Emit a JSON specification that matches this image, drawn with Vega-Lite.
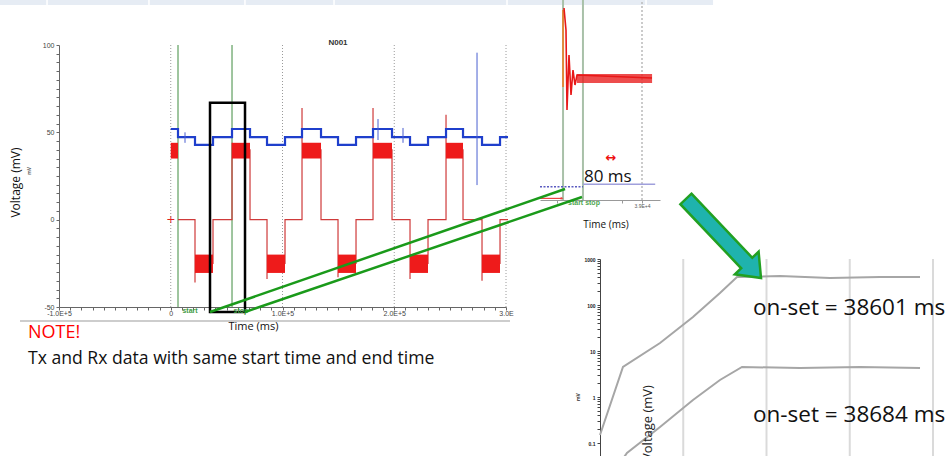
{
"$schema": "https://vega.github.io/schema/vega-lite/v6.json",
"width": 447, "height": 262,
"autosize": {"type": "none"},
"padding": {"left": 59, "top": 45, "right": 443, "bottom": 149},
"background": "white",
"config": {"view": {"stroke": null}, "axis": {"grid": false, "labelFont": "Liberation Sans", "titleFont": "Open Sans"}, "text": {"font": "Open Sans"}},
"datasets": {
"band": [{"t0": -152800, "t1": 485300, "v0": 122.9, "v1": 126}],
"seps": [{"t": -110700}, {"t": -19500}, {"t": 66400}, {"t": 146100}, {"t": 300900}, {"t": 425300}],
"grid": [{"t": 0}, {"t": 100000}, {"t": 200000}, {"t": 300000}],
"cursors": [{"t": 6490}, {"t": 54820}],
"cursorLabels": [{"text": "start", "t": 17230, "v": -52.3}, {"text": "stop", "t": 62870, "v": -52.3}],
"redBlocks": [
{"t0": 0, "t1": 6490, "lo": 35, "hi": 44},
{"t0": 21700, "t1": 37810, "lo": -30.5, "hi": -20},
{"t0": 54820, "t1": 70930, "lo": 35, "hi": 44},
{"t0": 86140, "t1": 102250, "lo": -30.5, "hi": -20},
{"t0": 117460, "t1": 134460, "lo": 35, "hi": 44},
{"t0": 149680, "t1": 165790, "lo": -30.5, "hi": -20},
{"t0": 181000, "t1": 198000, "lo": 35, "hi": 44},
{"t0": 214110, "t1": 230220, "lo": -30.5, "hi": -20},
{"t0": 246330, "t1": 261540, "lo": 35, "hi": 44},
{"t0": 278540, "t1": 294650, "lo": -30.5, "hi": -20}],
"redLine": [
{"i": 1, "t": 6490, "v": 0}, {"i": 2, "t": 21700, "v": 0}, {"i": 3, "t": 21700, "v": -36}, {"i": 4, "t": 21700, "v": -25},
{"i": 5, "t": 37810, "v": -25}, {"i": 6, "t": 37810, "v": 0}, {"i": 7, "t": 54820, "v": 0}, {"i": 8, "t": 54820, "v": 44},
{"i": 9, "t": 54820, "v": 40}, {"i": 10, "t": 70930, "v": 40}, {"i": 11, "t": 70930, "v": 0}, {"i": 12, "t": 86140, "v": 0},
{"i": 13, "t": 86140, "v": -34}, {"i": 14, "t": 86140, "v": -25}, {"i": 15, "t": 102250, "v": -25}, {"i": 16, "t": 102250, "v": 0},
{"i": 17, "t": 117460, "v": 0}, {"i": 18, "t": 117460, "v": 64}, {"i": 19, "t": 117460, "v": 40}, {"i": 20, "t": 134460, "v": 40},
{"i": 21, "t": 134460, "v": 0}, {"i": 22, "t": 149680, "v": 0}, {"i": 23, "t": 149680, "v": -33}, {"i": 24, "t": 149680, "v": -25},
{"i": 25, "t": 165790, "v": -25}, {"i": 26, "t": 165790, "v": 0}, {"i": 27, "t": 181000, "v": 0}, {"i": 28, "t": 181000, "v": 64},
{"i": 29, "t": 181000, "v": 40}, {"i": 30, "t": 198000, "v": 40}, {"i": 31, "t": 198000, "v": 0}, {"i": 32, "t": 214110, "v": 0},
{"i": 33, "t": 214110, "v": -34}, {"i": 34, "t": 214110, "v": -25}, {"i": 35, "t": 230220, "v": -25}, {"i": 36, "t": 230220, "v": 0},
{"i": 37, "t": 246330, "v": 0}, {"i": 38, "t": 246330, "v": 60}, {"i": 39, "t": 246330, "v": 40}, {"i": 40, "t": 261540, "v": 40},
{"i": 41, "t": 261540, "v": 0}, {"i": 42, "t": 278540, "v": 0}, {"i": 43, "t": 278540, "v": -35}, {"i": 44, "t": 278540, "v": -25},
{"i": 45, "t": 294650, "v": -25}, {"i": 46, "t": 294650, "v": 0}, {"i": 47, "t": 301800, "v": 0}],
"blueLine": [
{"i": 1, "t": 0, "v": 51.9}, {"i": 2, "t": 6490, "v": 47.3}, {"i": 3, "t": 21700, "v": 42.8}, {"i": 4, "t": 37810, "v": 47.3},
{"i": 5, "t": 54820, "v": 51.9}, {"i": 6, "t": 70930, "v": 47.3}, {"i": 7, "t": 86140, "v": 42.8}, {"i": 8, "t": 102250, "v": 47.3},
{"i": 9, "t": 117460, "v": 51.9}, {"i": 10, "t": 134460, "v": 47.3}, {"i": 11, "t": 149680, "v": 42.8}, {"i": 12, "t": 165790, "v": 47.3},
{"i": 13, "t": 181000, "v": 51.9}, {"i": 14, "t": 198000, "v": 47.3}, {"i": 15, "t": 214110, "v": 42.8}, {"i": 16, "t": 230220, "v": 47.3},
{"i": 17, "t": 246330, "v": 51.9}, {"i": 18, "t": 261540, "v": 47.3}, {"i": 19, "t": 278540, "v": 42.8}, {"i": 20, "t": 294650, "v": 47.3},
{"i": 21, "t": 301800, "v": 47.3}],
"blueSpikes": [{"t": 12760, "v0": 44, "v1": 50}, {"t": 185470, "v0": 45.6, "v1": 57.6}, {"t": 207840, "v0": 44, "v1": 52.5}, {"t": 274070, "v0": 19.8, "v1": 95.6}],
"origin": [{"text": "+", "t": 0, "v": 0}],
"zoomBox": [{"t0": 35130, "t1": 66450, "v0": -52.86, "v1": 66.97}],
"mainTitle": [{"text": "N001", "t": 149670, "v": 101.1}],
"unit": [{"text": "mV", "t": -126400, "v": 28}],
"divider": [{"t0": -134900, "t1": 303600, "v": -58}],
"note": [{"text": "NOTE!", "t": -127740, "v": -64.9}],
"noteBody": [{"text": "Tx and Rx data with same start time and end time", "t": -127740, "v": -79.5}],
"connectors": [{"id": "A", "t": 35130, "v": -52.86}, {"id": "A", "t": 352820, "v": 17.56}, {"id": "B", "t": 66450, "v": -52.86}, {"id": "B", "t": 368030, "v": 12.98}],
"insetCursors": [{"t": 38596}, {"t": 38679}],
"insetGrid": [{"t": 38925}],
"insetOrange": [{"t": 38596, "v0": 34.75, "v1": 92.5}],
"insetRed": [
{"i": 1, "t": 38600, "v": 94}, {"i": 2, "t": 38603, "v": 88}, {"i": 3, "t": 38608.3, "v": 77.5}, {"i": 4, "t": 38612.5, "v": 17.5},
{"i": 5, "t": 38620.8, "v": 58.75}, {"i": 6, "t": 38629.2, "v": 28.75}, {"i": 7, "t": 38637.5, "v": 47.5}, {"i": 8, "t": 38645.8, "v": 36.25},
{"i": 9, "t": 38654.2, "v": 43.75}, {"i": 10, "t": 38966.7, "v": 41.5}],
"insetNoise": [{"t0": 38654, "t1": 38967, "v0": 37.75, "v1": 44.5}],
"insetBlueDotted": [{"t0": 38500, "t1": 38679, "v": -40}],
"insetBlueSolid": [{"t0": 38679, "t1": 38980, "v": -38.2}],
"insetArrow": [{"t0": 38500, "t1": 38590, "v": -48.75}],
"insetArrowHead": [{"t": 38592, "v": -48.75}],
"insetLabels": [{"text": "start stop", "t": 38616.7, "v": -52.25}],
"insetSpan": [{"text": "↔", "t": 38795.8, "v": -18.5}],
"insetNote": [{"text": "80 ms", "t": 38683.3, "v": -32.5}],
"insetTitle": [{"text": "Time (ms)", "t": 38775, "v": -68.75}],
"rightGrid": [{"t": 38600}, {"t": 38700}, {"t": 38800}, {"t": 38900}],
"curves": [
{"curve": "Rx", "i": 1, "t": 38500, "v": 0.1493}, {"curve": "Rx", "i": 2, "t": 38527.6, "v": 4.488}, {"curve": "Rx", "i": 3, "t": 38572.1, "v": 14.93},
{"curve": "Rx", "i": 4, "t": 38611.7, "v": 54.84}, {"curve": "Rx", "i": 5, "t": 38644.1, "v": 182.4}, {"curve": "Rx", "i": 6, "t": 38664.6, "v": 406.2},
{"curve": "Rx", "i": 7, "t": 38716.2, "v": 426.9}, {"curve": "Rx", "i": 8, "t": 38776.3, "v": 386.4}, {"curve": "Rx", "i": 9, "t": 38836.3, "v": 406.2},
{"curve": "Rx", "i": 10, "t": 38884.4, "v": 406.2},
{"curve": "Tx", "i": 1, "t": 38526.4, "v": 0.0427}, {"curve": "Tx", "i": 2, "t": 38532.4, "v": 0.0606}, {"curve": "Tx", "i": 3, "t": 38572.1, "v": 0.2228},
{"curve": "Tx", "i": 4, "t": 38611.7, "v": 0.8606}, {"curve": "Tx", "i": 5, "t": 38644.1, "v": 2.342}, {"curve": "Tx", "i": 6, "t": 38670.6, "v": 4.488},
{"curve": "Tx", "i": 7, "t": 38740.2, "v": 4.27}, {"curve": "Tx", "i": 8, "t": 38812.3, "v": 4.488}, {"curve": "Tx", "i": 9, "t": 38884.4, "v": 4.27}],
"onset": [{"text": "on-set = 38601 ms", "t": 38683.8, "v": 86.05}, {"text": "on-set = 38684 ms", "t": 38683.8, "v": 0.4062}],
"rightTitle": [{"text": "Voltage (mV)", "t": 38557.7, "v": 0.2721}],
"rightUnit": [{"text": "mV", "t": 38473.6, "v": 1}],
"pointer": [{"t": 38648.3, "v": 2791}]
},
"layer": [
{"data": {"name": "band"}, "mark": {"type": "rect", "color": "#e6ecf4"},
 "encoding": {"x": {"field": "t0", "type": "quantitative", "scale": {"domain": [-100000, 300000], "nice": false, "zero": false}, "axis": null}, "x2": {"field": "t1"},
 "y": {"field": "v0", "type": "quantitative", "scale": {"domain": [-50, 100], "nice": false, "zero": false}, "axis": null}, "y2": {"field": "v1"}}},
{"data": {"name": "seps"}, "mark": {"type": "rule", "color": "white", "strokeWidth": 1.5},
 "encoding": {"x": {"field": "t", "type": "quantitative", "scale": {"domain": [-100000, 300000], "nice": false, "zero": false}, "axis": null},
 "y": {"datum": 122.9, "type": "quantitative", "scale": {"domain": [-50, 100], "nice": false, "zero": false}, "axis": null}, "y2": {"datum": 126}}},
{"data": {"name": "grid"}, "mark": {"type": "rule", "color": "#9a9a9a", "strokeWidth": 1, "strokeDash": [1, 2]},
 "encoding": {"x": {"field": "t", "type": "quantitative", "scale": {"domain": [-100000, 300000], "nice": false, "zero": false}, "axis": null},
 "y": {"datum": -50, "type": "quantitative", "scale": {"domain": [-50, 100], "nice": false, "zero": false}, "axis": null}, "y2": {"datum": 100}}},
{"data": {"name": "cursors"}, "mark": {"type": "rule", "color": "#5f9f5f", "strokeWidth": 1.2},
 "encoding": {"x": {"field": "t", "type": "quantitative", "scale": {"domain": [-100000, 300000], "nice": false, "zero": false}, "axis": null},
 "y": {"datum": -50, "type": "quantitative", "scale": {"domain": [-50, 100], "nice": false, "zero": false}, "axis": null}, "y2": {"datum": 100}}},
{"data": {"name": "redLine"}, "mark": {"type": "line", "color": "#cf3a3a", "strokeWidth": 1.2},
 "encoding": {"x": {"field": "t", "type": "quantitative", "scale": {"domain": [-100000, 300000], "nice": false, "zero": false},
   "axis": {"orient": "bottom", "values": [-100000,-90000,-80000,-70000,-60000,-50000,-40000,-30000,-20000,-10000,0,10000,20000,30000,40000,50000,60000,70000,80000,90000,100000,110000,120000,130000,140000,150000,160000,170000,180000,190000,200000,210000,220000,230000,240000,250000,260000,270000,280000,290000,300000],
   "labelExpr": "datum.value == 0 ? '0' : datum.value == -100000 ? '-1.0E+5' : datum.value == 100000 ? '1.0E+5' : datum.value == 200000 ? '2.0E+5' : datum.value == 300000 ? '3.0E' : ''",
   "labelOverlap": false, "labelFlush": false, "labelBound": false,
   "tickSize": 3, "labelFontSize": 7, "labelColor": "#444", "labelPadding": -1, "domainColor": "#666", "tickColor": "#666",
   "title": "Time (ms)", "titleFontSize": 11, "titleFontWeight": "normal", "titleColor": "#111", "titleX": 194, "titleY": 19, "titleBaseline": "middle", "titleAlign": "center"}},
 "y": {"field": "v", "type": "quantitative", "scale": {"domain": [-50, 100], "nice": false, "zero": false},
   "axis": {"orient": "left", "values": [-50,-45,-40,-35,-30,-25,-20,-15,-10,-5,0,5,10,15,20,25,30,35,40,45,50,55,60,65,70,75,80,85,90,95,100],
   "labelExpr": "datum.value == 100 ? '100' : datum.value == 50 ? '50' : datum.value == 0 ? '0' : datum.value == -50 ? '-50' : ''",
   "labelOverlap": false, "labelFlush": false, "labelBound": false,
   "tickSize": 3, "labelFontSize": 7, "labelColor": "#444", "domainColor": "#666", "tickColor": "#666",
   "title": "Voltage (mV)", "titleFontSize": 12, "titleFontWeight": "normal", "titleColor": "#111", "titleX": -44, "titleY": 137, "titleBaseline": "middle", "titleAlign": "center", "titleAngle": 270}},
 "order": {"field": "i", "type": "quantitative"}}},
{"data": {"name": "redBlocks"}, "mark": {"type": "rect", "color": "#ee1b1b"},
 "encoding": {"x": {"field": "t0", "type": "quantitative", "scale": {"domain": [-100000, 300000], "nice": false, "zero": false}, "axis": null}, "x2": {"field": "t1"},
 "y": {"field": "lo", "type": "quantitative", "scale": {"domain": [-50, 100], "nice": false, "zero": false}, "axis": null}, "y2": {"field": "hi"}}},
{"data": {"name": "blueLine"}, "mark": {"type": "line", "color": "#1f3fcc", "strokeWidth": 2.2, "interpolate": "step-after"},
 "encoding": {"x": {"field": "t", "type": "quantitative", "scale": {"domain": [-100000, 300000], "nice": false, "zero": false}, "axis": null},
 "y": {"field": "v", "type": "quantitative", "scale": {"domain": [-50, 100], "nice": false, "zero": false}, "axis": null},
 "order": {"field": "i", "type": "quantitative"}}},
{"data": {"name": "blueSpikes"}, "mark": {"type": "rule", "color": "#4a5fd0", "strokeWidth": 1},
 "encoding": {"x": {"field": "t", "type": "quantitative", "scale": {"domain": [-100000, 300000], "nice": false, "zero": false}, "axis": null},
 "y": {"field": "v0", "type": "quantitative", "scale": {"domain": [-50, 100], "nice": false, "zero": false}, "axis": null}, "y2": {"field": "v1"}}},
{"data": {"name": "origin"}, "mark": {"type": "text", "color": "#e02020", "fontSize": 11, "baseline": "middle", "align": "center", "font": "DejaVu Sans"},
 "encoding": {"x": {"field": "t", "type": "quantitative", "scale": {"domain": [-100000, 300000], "nice": false, "zero": false}, "axis": null},
 "y": {"field": "v", "type": "quantitative", "scale": {"domain": [-50, 100], "nice": false, "zero": false}, "axis": null}, "text": {"field": "text"}}},
{"data": {"name": "zoomBox"}, "mark": {"type": "rect", "filled": false, "color": "#000", "strokeWidth": 2.5},
 "encoding": {"x": {"field": "t0", "type": "quantitative", "scale": {"domain": [-100000, 300000], "nice": false, "zero": false}, "axis": null}, "x2": {"field": "t1"},
 "y": {"field": "v0", "type": "quantitative", "scale": {"domain": [-50, 100], "nice": false, "zero": false}, "axis": null}, "y2": {"field": "v1"}}},
{"data": {"name": "cursorLabels"}, "mark": {"type": "text", "color": "#3f9a3f", "fontSize": 7, "fontWeight": "bold", "font": "Liberation Sans", "baseline": "middle", "align": "center"},
 "encoding": {"x": {"field": "t", "type": "quantitative", "scale": {"domain": [-100000, 300000], "nice": false, "zero": false}, "axis": null},
 "y": {"field": "v", "type": "quantitative", "scale": {"domain": [-50, 100], "nice": false, "zero": false}, "axis": null}, "text": {"field": "text"}}},
{"data": {"name": "mainTitle"}, "mark": {"type": "text", "color": "#333", "fontSize": 8, "fontWeight": "bold", "font": "Liberation Sans", "baseline": "middle", "align": "center"},
 "encoding": {"x": {"field": "t", "type": "quantitative", "scale": {"domain": [-100000, 300000], "nice": false, "zero": false}, "axis": null},
 "y": {"field": "v", "type": "quantitative", "scale": {"domain": [-50, 100], "nice": false, "zero": false}, "axis": null}, "text": {"field": "text"}}},
{"data": {"name": "unit"}, "mark": {"type": "text", "color": "#666", "fontSize": 5, "fontWeight": "bold", "font": "Liberation Sans", "baseline": "middle", "align": "center", "angle": 270},
 "encoding": {"x": {"field": "t", "type": "quantitative", "scale": {"domain": [-100000, 300000], "nice": false, "zero": false}, "axis": null},
 "y": {"field": "v", "type": "quantitative", "scale": {"domain": [-50, 100], "nice": false, "zero": false}, "axis": null}, "text": {"field": "text"}}},
{"data": {"name": "divider"}, "mark": {"type": "rule", "color": "#bdbdbd", "strokeWidth": 1.5},
 "encoding": {"x": {"field": "t0", "type": "quantitative", "scale": {"domain": [-100000, 300000], "nice": false, "zero": false}, "axis": null}, "x2": {"field": "t1"},
 "y": {"field": "v", "type": "quantitative", "scale": {"domain": [-50, 100], "nice": false, "zero": false}, "axis": null}}},
{"data": {"name": "note"}, "mark": {"type": "text", "color": "#ff0000", "fontSize": 18, "baseline": "middle", "align": "left"},
 "encoding": {"x": {"field": "t", "type": "quantitative", "scale": {"domain": [-100000, 300000], "nice": false, "zero": false}, "axis": null},
 "y": {"field": "v", "type": "quantitative", "scale": {"domain": [-50, 100], "nice": false, "zero": false}, "axis": null}, "text": {"field": "text"}}},
{"data": {"name": "noteBody"}, "mark": {"type": "text", "color": "#111", "fontSize": 17.6, "baseline": "middle", "align": "left"},
 "encoding": {"x": {"field": "t", "type": "quantitative", "scale": {"domain": [-100000, 300000], "nice": false, "zero": false}, "axis": null},
 "y": {"field": "v", "type": "quantitative", "scale": {"domain": [-50, 100], "nice": false, "zero": false}, "axis": null}, "text": {"field": "text"}}},
{"data": {"name": "insetCursors"}, "mark": {"type": "rule", "color": "#a9c1a9", "strokeWidth": 2},
 "encoding": {"x": {"field": "t", "type": "quantitative", "scale": {"domain": [38500, 39000], "range": [481, 601], "nice": false, "zero": false}, "axis": null},
 "y": {"datum": -50, "type": "quantitative", "scale": {"domain": [-50, 100], "range": [155, -45], "nice": false, "zero": false}, "axis": null}, "y2": {"datum": 100}}},
{"data": {"name": "insetGrid"}, "mark": {"type": "rule", "color": "#bbbbbb", "strokeWidth": 1.5, "strokeDash": [2, 2]},
 "encoding": {"x": {"field": "t", "type": "quantitative", "scale": {"domain": [38500, 39000], "range": [481, 601], "nice": false, "zero": false}, "axis": null},
 "y": {"datum": -50, "type": "quantitative", "scale": {"domain": [-50, 100], "range": [155, -45], "nice": false, "zero": false}, "axis": null}, "y2": {"datum": 100}}},
{"data": {"name": "insetOrange"}, "mark": {"type": "rule", "color": "#e08a3c", "strokeWidth": 2},
 "encoding": {"x": {"field": "t", "type": "quantitative", "scale": {"domain": [38500, 39000], "range": [481, 601], "nice": false, "zero": false}, "axis": null},
 "y": {"field": "v0", "type": "quantitative", "scale": {"domain": [-50, 100], "range": [155, -45], "nice": false, "zero": false}, "axis": null}, "y2": {"field": "v1"}}},
{"data": {"name": "insetNoise"}, "mark": {"type": "rect", "color": "#e82020", "opacity": 0.8},
 "encoding": {"x": {"field": "t0", "type": "quantitative", "scale": {"domain": [38500, 39000], "range": [481, 601], "nice": false, "zero": false}, "axis": null}, "x2": {"field": "t1"},
 "y": {"field": "v0", "type": "quantitative", "scale": {"domain": [-50, 100], "range": [155, -45], "nice": false, "zero": false}, "axis": null}, "y2": {"field": "v1"}}},
{"data": {"name": "insetRed"}, "mark": {"type": "line", "color": "#e81818", "strokeWidth": 1.6},
 "encoding": {"x": {"field": "t", "type": "quantitative", "scale": {"domain": [38500, 39000], "range": [481, 601], "nice": false, "zero": false},
   "axis": {"orient": "bottom", "offset": -107, "values": [38570, 38840, 38925], "labelExpr": "datum.value == 38925 ? '3.9E+4' : ''", "labelOverlap": false, "labelFlush": false, "labelBound": false, "tickSize": 3, "labelFontSize": 5, "labelColor": "#555", "labelPadding": 0, "domainColor": "#999", "tickColor": "#999", "title": null}},
 "y": {"field": "v", "type": "quantitative", "scale": {"domain": [-50, 100], "range": [155, -45], "nice": false, "zero": false}, "axis": null},
 "order": {"field": "i", "type": "quantitative"}}},
{"data": {"name": "insetBlueDotted"}, "mark": {"type": "rule", "color": "#5a5ac0", "strokeWidth": 1.5, "strokeDash": [2, 1.5]},
 "encoding": {"x": {"field": "t0", "type": "quantitative", "scale": {"domain": [38500, 39000], "range": [481, 601], "nice": false, "zero": false}, "axis": null}, "x2": {"field": "t1"},
 "y": {"field": "v", "type": "quantitative", "scale": {"domain": [-50, 100], "range": [155, -45], "nice": false, "zero": false}, "axis": null}}},
{"data": {"name": "insetBlueSolid"}, "mark": {"type": "rule", "color": "#a0a0dc", "strokeWidth": 1.5},
 "encoding": {"x": {"field": "t0", "type": "quantitative", "scale": {"domain": [38500, 39000], "range": [481, 601], "nice": false, "zero": false}, "axis": null}, "x2": {"field": "t1"},
 "y": {"field": "v", "type": "quantitative", "scale": {"domain": [-50, 100], "range": [155, -45], "nice": false, "zero": false}, "axis": null}}},
{"data": {"name": "insetArrow"}, "mark": {"type": "rule", "color": "#e82020", "strokeWidth": 1},
 "encoding": {"x": {"field": "t0", "type": "quantitative", "scale": {"domain": [38500, 39000], "range": [481, 601], "nice": false, "zero": false}, "axis": null}, "x2": {"field": "t1"},
 "y": {"field": "v", "type": "quantitative", "scale": {"domain": [-50, 100], "range": [155, -45], "nice": false, "zero": false}, "axis": null}}},
{"data": {"name": "insetArrowHead"}, "mark": {"type": "point", "shape": "triangle-right", "filled": true, "color": "#e82020", "size": 10},
 "encoding": {"x": {"field": "t", "type": "quantitative", "scale": {"domain": [38500, 39000], "range": [481, 601], "nice": false, "zero": false}, "axis": null},
 "y": {"field": "v", "type": "quantitative", "scale": {"domain": [-50, 100], "range": [155, -45], "nice": false, "zero": false}, "axis": null}}},
{"data": {"name": "insetLabels"}, "mark": {"type": "text", "color": "#4fa64f", "fontSize": 7, "fontWeight": "bold", "font": "Liberation Sans", "baseline": "middle", "align": "left"},
 "encoding": {"x": {"field": "t", "type": "quantitative", "scale": {"domain": [38500, 39000], "range": [481, 601], "nice": false, "zero": false}, "axis": null},
 "y": {"field": "v", "type": "quantitative", "scale": {"domain": [-50, 100], "range": [155, -45], "nice": false, "zero": false}, "axis": null}, "text": {"field": "text"}}},
{"data": {"name": "insetSpan"}, "mark": {"type": "text", "color": "#ee1111", "fontSize": 13, "fontWeight": "bold", "font": "DejaVu Sans", "baseline": "middle", "align": "center"},
 "encoding": {"x": {"field": "t", "type": "quantitative", "scale": {"domain": [38500, 39000], "range": [481, 601], "nice": false, "zero": false}, "axis": null},
 "y": {"field": "v", "type": "quantitative", "scale": {"domain": [-50, 100], "range": [155, -45], "nice": false, "zero": false}, "axis": null}, "text": {"field": "text"}}},
{"data": {"name": "insetNote"}, "mark": {"type": "text", "color": "#111", "fontSize": 17, "baseline": "middle", "align": "left"},
 "encoding": {"x": {"field": "t", "type": "quantitative", "scale": {"domain": [38500, 39000], "range": [481, 601], "nice": false, "zero": false}, "axis": null},
 "y": {"field": "v", "type": "quantitative", "scale": {"domain": [-50, 100], "range": [155, -45], "nice": false, "zero": false}, "axis": null}, "text": {"field": "text"}}},
{"data": {"name": "insetTitle"}, "mark": {"type": "text", "color": "#111", "fontSize": 10, "baseline": "middle", "align": "center"},
 "encoding": {"x": {"field": "t", "type": "quantitative", "scale": {"domain": [38500, 39000], "range": [481, 601], "nice": false, "zero": false}, "axis": null},
 "y": {"field": "v", "type": "quantitative", "scale": {"domain": [-50, 100], "range": [155, -45], "nice": false, "zero": false}, "axis": null}, "text": {"field": "text"}}},
{"data": {"name": "rightGrid"}, "mark": {"type": "rule", "color": "#dadada", "strokeWidth": 2},
 "encoding": {"x": {"field": "t", "type": "quantitative", "scale": {"domain": [38500, 38900], "range": [541, 874], "nice": false, "zero": false}, "axis": null},
 "y": {"datum": 0.0522, "type": "quantitative", "scale": {"type": "log", "domain": [0.0522, 1000], "range": [411, 214], "nice": false}, "axis": null}, "y2": {"datum": 1000}}},
{"data": {"name": "curves"}, "mark": {"type": "line", "color": "#a6a6a6", "strokeWidth": 2},
 "encoding": {"x": {"field": "t", "type": "quantitative", "scale": {"domain": [38500, 38900], "range": [541, 874], "nice": false, "zero": false}, "axis": null},
 "y": {"field": "v", "type": "quantitative", "scale": {"type": "log", "domain": [0.0522, 1000], "range": [411, 214], "nice": false},
   "axis": {"orient": "left", "offset": -541, "values": [0.1,0.2,0.3,0.4,0.5,0.6,0.7,0.8,0.9,1,2,3,4,5,6,7,8,9,10,20,30,40,50,60,70,80,90,100,200,300,400,500,600,700,800,900,1000],
   "labelExpr": "datum.value == 1000 ? '1000' : datum.value == 100 ? '100' : datum.value == 10 ? '10' : datum.value == 1 ? '1' : datum.value == 0.1 ? '0.1' : ''",
   "labelOverlap": false, "labelFlush": false, "labelBound": false,
   "tickSize": 3, "labelFontSize": 5, "labelFontWeight": "bold", "labelColor": "#222", "labelPadding": 2, "domainColor": "#444", "tickColor": "#444", "title": null}},
 "detail": {"field": "curve"}, "order": {"field": "i", "type": "quantitative"}}},
{"data": {"name": "onset"}, "mark": {"type": "text", "color": "#111", "fontSize": 22.5, "baseline": "middle", "align": "left"},
 "encoding": {"x": {"field": "t", "type": "quantitative", "scale": {"domain": [38500, 38900], "range": [541, 874], "nice": false, "zero": false}, "axis": null},
 "y": {"field": "v", "type": "quantitative", "scale": {"type": "log", "domain": [0.0522, 1000], "range": [411, 214], "nice": false}, "axis": null}, "text": {"field": "text"}}},
{"data": {"name": "rightTitle"}, "mark": {"type": "text", "color": "#222", "fontSize": 13, "baseline": "middle", "align": "center", "angle": 270},
 "encoding": {"x": {"field": "t", "type": "quantitative", "scale": {"domain": [38500, 38900], "range": [541, 874], "nice": false, "zero": false}, "axis": null},
 "y": {"field": "v", "type": "quantitative", "scale": {"type": "log", "domain": [0.0522, 1000], "range": [411, 214], "nice": false}, "axis": null}, "text": {"field": "text"}}},
{"data": {"name": "rightUnit"}, "mark": {"type": "text", "color": "#333", "fontSize": 5, "fontWeight": "bold", "font": "Liberation Sans", "baseline": "middle", "align": "center", "angle": 270},
 "encoding": {"x": {"field": "t", "type": "quantitative", "scale": {"domain": [38500, 38900], "range": [541, 874], "nice": false, "zero": false}, "axis": null},
 "y": {"field": "v", "type": "quantitative", "scale": {"type": "log", "domain": [0.0522, 1000], "range": [411, 214], "nice": false}, "axis": null}, "text": {"field": "text"}}},
{"data": {"name": "pointer"}, "mark": {"type": "point", "filled": true, "color": "#1fb3ad", "stroke": "#22a022", "strokeWidth": 2.5, "opacity": 1, "size": 11900, "angle": 46.5,
   "shape": "M -1 -0.14 L 0.62 -0.14 L 0.62 -0.3 L 1 0 L 0.62 0.3 L 0.62 0.14 L -1 0.14 Z"},
 "encoding": {"x": {"field": "t", "type": "quantitative", "scale": {"domain": [38500, 38900], "range": [541, 874], "nice": false, "zero": false}, "axis": null},
 "y": {"field": "v", "type": "quantitative", "scale": {"type": "log", "domain": [0.0522, 1000], "range": [411, 214], "nice": false}, "axis": null}}},
{"data": {"name": "connectors"}, "mark": {"type": "line", "color": "#1a9a1a", "strokeWidth": 2.5},
 "encoding": {"x": {"field": "t", "type": "quantitative", "scale": {"domain": [-100000, 300000], "nice": false, "zero": false}, "axis": null},
 "y": {"field": "v", "type": "quantitative", "scale": {"domain": [-50, 100], "nice": false, "zero": false}, "axis": null},
 "detail": {"field": "id"}}}
],
"resolve": {"scale": {"x": "independent", "y": "independent"}, "axis": {"x": "independent", "y": "independent"}}
}
